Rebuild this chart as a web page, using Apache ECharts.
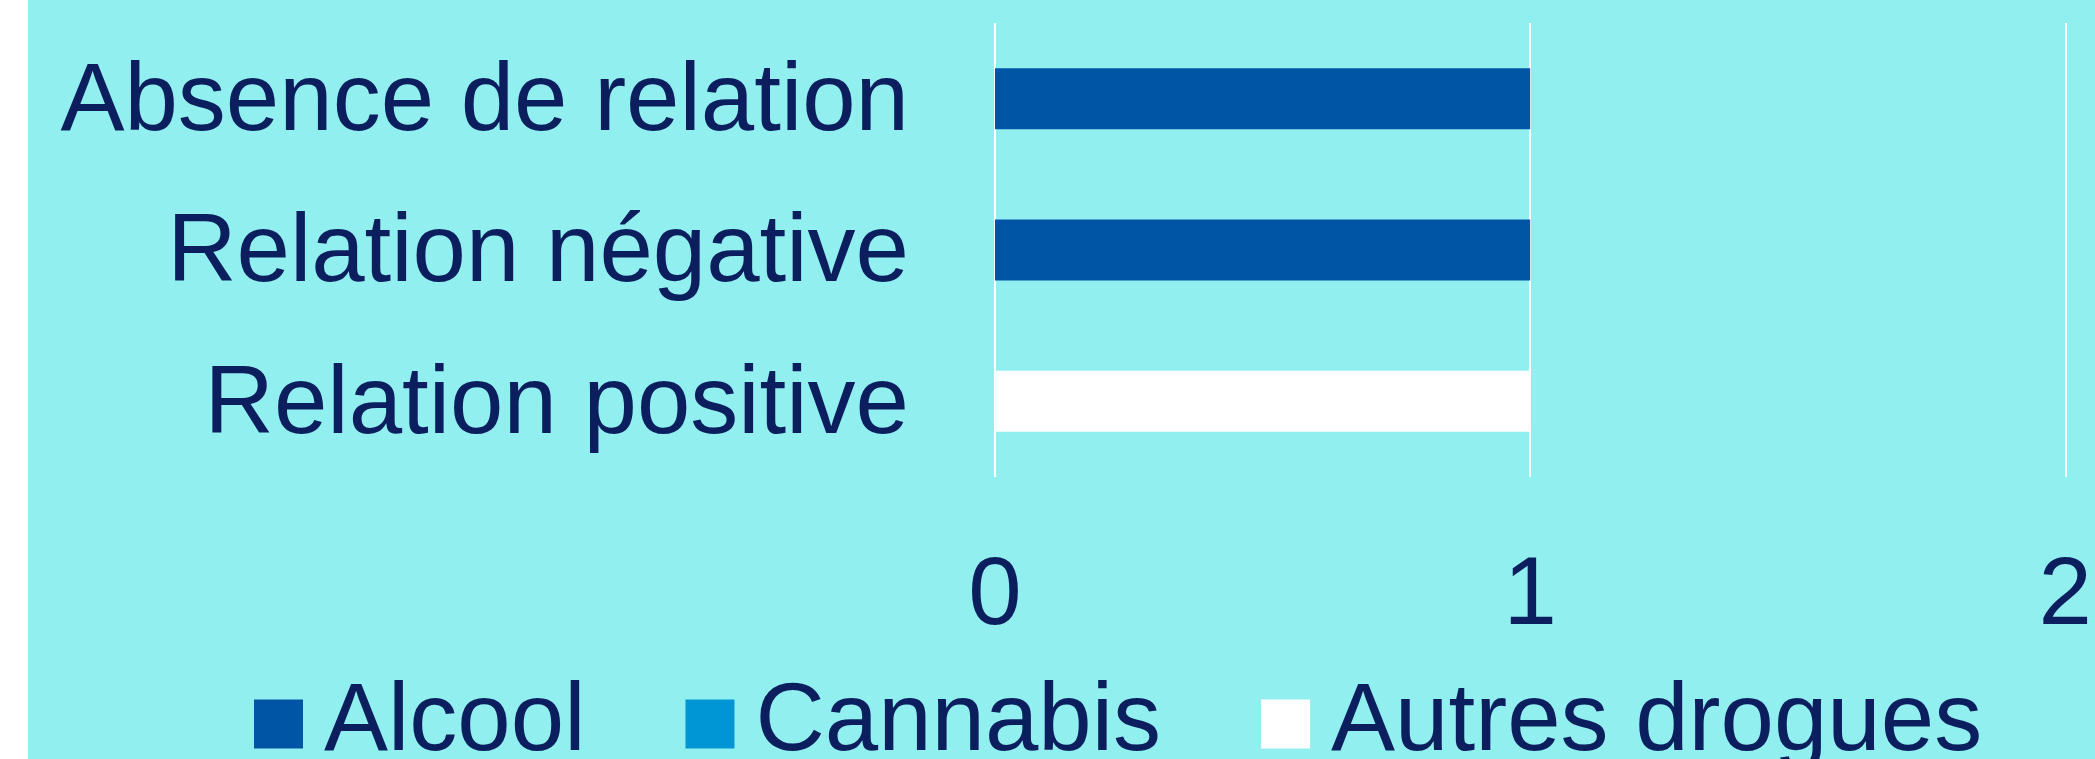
<!DOCTYPE html>
<html>
<head>
<meta charset="utf-8">
<script src="https://cdn.jsdelivr.net/npm/echarts@6/dist/echarts.min.js"></script>
<style>
html,body{margin:0;padding:0;background:#ffffff;}
#c{width:2095px;height:759px;}
</style>
</head>
<body>
<div id="c"></div>
<script>
// Categories from bottom to top (Excel bar order)
const categories = ['Relation positive', 'Relation négative', 'Absence de relation'];
const seriesNames = ['Alcool', 'Cannabis', 'Autres drogues'];
const alcool = [0, 1, 1];
const cannabis = [0, 0, 0];
const autresDrogues = [1, 0, 0];
const xTicks = [0, 1, 2];

const textColor = '#0B1F5E';
const font = 'Liberation Sans, Arial, sans-serif';
const colors = ['#0055A5', '#0096D6', '#FFFFFF'];

const chart = echarts.init(document.getElementById('c'), null, {renderer: 'canvas'});
chart.setOption({
  animation: false,
  backgroundColor: 'transparent',
  color: colors,
  graphic: [{
    type: 'rect', z: -10, silent: true,
    shape: {x: 28, y: 0, width: 2067, height: 759},
    style: {fill: '#92EFF0'}
  }],
  grid: {left: 995, right: 28, top: 23, bottom: 282, containLabel: false},
  xAxis: {
    type: 'value',
    min: xTicks[0], max: xTicks[xTicks.length - 1], interval: 1,
    axisLine: {show: false},
    axisTick: {show: false},
    splitLine: {show: true, lineStyle: {color: '#FFFFFF', width: 2}},
    axisLabel: {color: textColor, fontSize: 96, fontFamily: font, margin: 73,
      formatter: v => String(v)}
  },
  yAxis: {
    type: 'category',
    data: categories,
    axisLine: {show: false},
    axisTick: {show: false},
    splitLine: {show: false},
    axisLabel: {color: textColor, fontFamily: font, margin: 86,
      formatter: v => '{a|' + v + '}',
      rich: {a: {color: textColor, fontSize: 96, fontFamily: font, lineHeight: 96, padding: [10, 0, 0, 0]}}}
  },
  legend: {
    data: seriesNames,
    left: 249, top: 671,
    itemWidth: 49, itemHeight: 49, itemGap: 100,
    icon: 'rect',
    textStyle: {color: textColor, fontSize: 96, fontFamily: font, padding: [6, 0, 0, 16]}
  },
  series: [
    {name: seriesNames[0], type: 'bar', stack: 'total', data: alcool, barWidth: 61},
    {name: seriesNames[1], type: 'bar', stack: 'total', data: cannabis, barWidth: 61},
    {name: seriesNames[2], type: 'bar', stack: 'total', data: autresDrogues, barWidth: 61}
  ]
});
</script>
</body>
</html>
